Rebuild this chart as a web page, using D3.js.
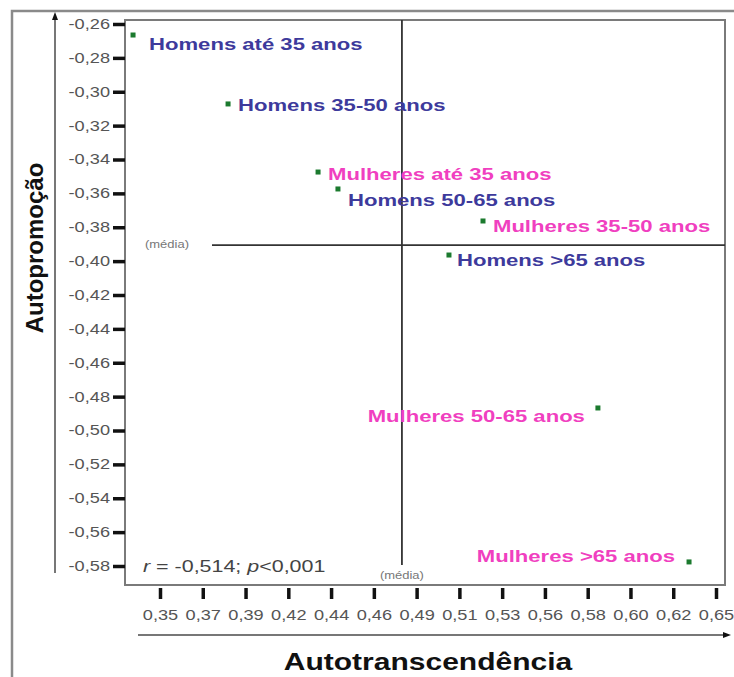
<!DOCTYPE html>
<html>
<head>
<meta charset="utf-8">
<script src="https://cdn.jsdelivr.net/npm/d3@7"></script>
<style>
  body { margin: 0; background: #fff; }
  svg { display: block; font-family: "Liberation Sans", Arial, sans-serif; }
</style>
</head>
<body>
<svg id="chart" width="734" height="677"></svg>
<script>
// groups (label text, sex, Autotranscendência, Autopromoção)
var groups = ["Homens até 35 anos", "Homens 35-50 anos", "Mulheres até 35 anos", "Homens 50-65 anos",
              "Mulheres 35-50 anos", "Homens >65 anos", "Mulheres 50-65 anos", "Mulheres >65 anos"];
var sexes = ["H", "H", "M", "H", "M", "H", "M", "M"];
var autotrans = [0.3335, 0.3846, 0.4330, 0.4437, 0.5217, 0.5034, 0.5835, 0.6325];
var autoprom = [-0.2665, -0.3072, -0.3474, -0.3574, -0.3763, -0.3964, -0.4867, -0.5776];

var meanX = 0.4781;
var meanY = -0.3905;

var xTickValues = [0.348, 0.371, 0.394, 0.417, 0.440, 0.463, 0.486, 0.509, 0.532, 0.555, 0.578, 0.601, 0.624, 0.647];
var xTickLabels = ["0,35", "0,37", "0,39", "0,42", "0,44", "0,46", "0,49", "0,51", "0,53", "0,56", "0,58", "0,60", "0,62", "0,65"];
var yTickValues = [-0.26, -0.28, -0.30, -0.32, -0.34, -0.36, -0.38, -0.40, -0.42, -0.44, -0.46, -0.48, -0.50, -0.52, -0.54, -0.56, -0.58];
var yTickLabels = ["-0,26", "-0,28", "-0,30", "-0,32", "-0,34", "-0,36", "-0,38", "-0,40", "-0,42", "-0,44",
                   "-0,46", "-0,48", "-0,50", "-0,52", "-0,54", "-0,56", "-0,58"];

// where each label sits relative to its point (pixels)
var labelPlacement = [
  {anchor: "start", dx: 16, dy: 15}, {anchor: "start", dx: 10, dy: 7},
  {anchor: "start", dx: 10, dy: 8},  {anchor: "start", dx: 10, dy: 17},
  {anchor: "start", dx: 10, dy: 11}, {anchor: "start", dx: 8,  dy: 11},
  {anchor: "end",   dx: -13, dy: 14}, {anchor: "end",  dx: -14, dy: 0}
];

var STRETCH = 1.3; // the original picture is widened horizontally
var sexColor = {H: "#3d3a9c", M: "#f03fc0"};

var svg = d3.select("#chart");

var x = d3.scaleLinear().domain([0.348, 0.647]).range([160, 716]);
var y = d3.scaleLinear().domain([-0.26, -0.58]).range([24, 566]);

var plot = {left: 125, top: 20, right: 725, bottom: 585};

function stretch(sel, k) {
  sel.each(function () {
    var t = d3.select(this);
    var tx = +t.attr("x") || 0;
    t.attr("x", tx / k).attr("transform", "scale(" + k + ",1)");
  });
}

// outer frame
svg.append("path")
  .attr("d", "M12,677 L12,11 L734,11")
  .attr("fill", "none").attr("stroke", "#8a8a8a").attr("stroke-width", 2.5);

// y arrow line
svg.append("line").attr("x1", 55).attr("x2", 55).attr("y1", 16).attr("y2", 573)
  .attr("stroke", "#777").attr("stroke-width", 2);
svg.append("path").attr("d", "M55,12 L52,20 L58,20 Z").attr("fill", "#111");

// x arrow line
svg.append("line").attr("x1", 138).attr("x2", 724).attr("y1", 635).attr("y2", 635)
  .attr("stroke", "#777").attr("stroke-width", 2);
svg.append("path").attr("d", "M731,635 L723,632 L723,638 Z").attr("fill", "#111");

// plot frame
svg.append("rect")
  .attr("x", plot.left).attr("y", plot.top)
  .attr("width", plot.right - plot.left).attr("height", plot.bottom - plot.top)
  .attr("fill", "#fff").attr("stroke", "#7a7a7a").attr("stroke-width", 2);

// axes
var yAxis = d3.axisLeft(y).tickValues(yTickValues)
  .tickFormat(function (d, i) { return yTickLabels[i]; })
  .tickSize(12).tickPadding(3);
var gy = svg.append("g").attr("transform", "translate(" + plot.left + ",0)").call(yAxis);
gy.select(".domain").remove();
gy.selectAll(".tick line").attr("stroke", "#111").attr("stroke-width", 3.5);
gy.selectAll(".tick text").attr("fill", "#555").attr("font-size", 14)
  .attr("font-family", "Liberation Sans, Arial, sans-serif");
stretch(gy.selectAll(".tick text"), STRETCH);

var xAxis = d3.axisBottom(x).tickValues(xTickValues)
  .tickFormat(function (d, i) { return xTickLabels[i]; })
  .tickSize(11).tickPadding(11);
var gx = svg.append("g").attr("transform", "translate(0," + (plot.bottom + 3) + ")").call(xAxis);
gx.select(".domain").remove();
gx.selectAll(".tick line").attr("stroke", "#111").attr("stroke-width", 3.5);
gx.selectAll(".tick text").attr("fill", "#555").attr("font-size", 14)
  .attr("font-family", "Liberation Sans, Arial, sans-serif");
stretch(gx.selectAll(".tick text"), STRETCH);

// mean lines
svg.append("line").attr("x1", x(meanX)).attr("x2", x(meanX))
  .attr("y1", plot.top).attr("y2", 565)
  .attr("stroke", "#333").attr("stroke-width", 1.8);
svg.append("line").attr("x1", 212).attr("x2", plot.right)
  .attr("y1", y(meanY)).attr("y2", y(meanY))
  .attr("stroke", "#333").attr("stroke-width", 1.8);

var media = svg.append("g").attr("font-size", 10).attr("fill", "#777").attr("text-anchor", "middle");
media.append("text").attr("x", 167).attr("y", y(meanY) + 3).text("(média)");
media.append("text").attr("x", x(meanX)).attr("y", 579).text("(média)");
stretch(media.selectAll("text"), STRETCH);

// points
var idx = d3.range(groups.length);
svg.append("g").selectAll("rect").data(idx).join("rect")
  .attr("x", function (i) { return x(autotrans[i]) - 2.5; })
  .attr("y", function (i) { return y(autoprom[i]) - 2.5; })
  .attr("width", 5).attr("height", 5)
  .attr("fill", "#1b7a2e");

var labels = svg.append("g").selectAll("text").data(idx).join("text")
  .attr("x", function (i) { return x(autotrans[i]) + labelPlacement[i].dx; })
  .attr("y", function (i) { return y(autoprom[i]) + labelPlacement[i].dy; })
  .attr("text-anchor", function (i) { return labelPlacement[i].anchor; })
  .attr("font-size", 17).attr("font-weight", "bold")
  .attr("fill", function (i) { return sexColor[sexes[i]]; })
  .text(function (i) { return groups[i]; });
stretch(labels, STRETCH);

// correlation note
var note = svg.append("text").attr("x", 143).attr("y", 572)
  .attr("font-size", 16.5).attr("fill", "#444");
note.append("tspan").attr("font-style", "italic").text("r");
note.append("tspan").text(" = -0,514; ");
note.append("tspan").attr("font-style", "italic").text("p");
note.append("tspan").text("<0,001");
stretch(note, STRETCH);

// axis titles
var xt = svg.append("text").attr("x", 428).attr("y", 670)
  .attr("text-anchor", "middle").attr("font-size", 24).attr("font-weight", "bold")
  .attr("fill", "#111").text("Autotranscendência");
stretch(xt, 1.25);

svg.append("text")
  .attr("transform", "translate(43,248) rotate(-90)")
  .attr("text-anchor", "middle").attr("font-size", 24).attr("font-weight", "bold")
  .attr("fill", "#111").text("Autopromoção");
</script>
</body>
</html>
